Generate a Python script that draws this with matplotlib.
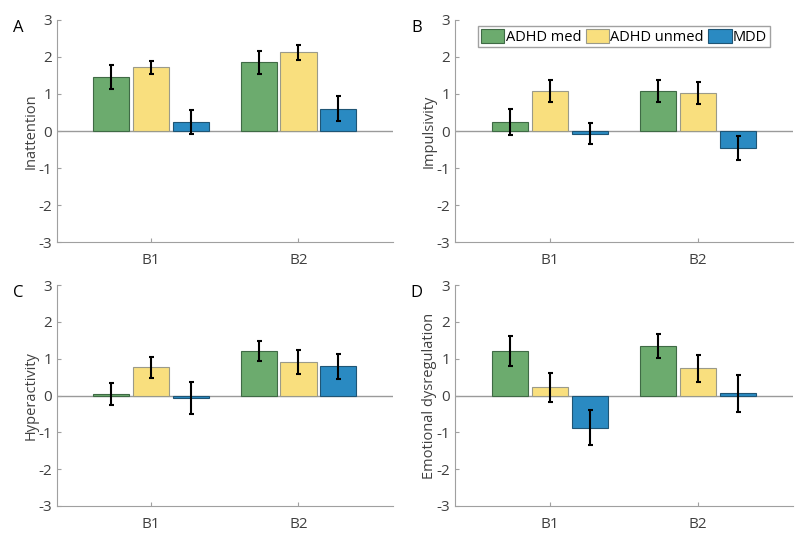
import numpy as np
from matplotlib import pyplot as plt

plt.rcParams['font.family'] = ['Open Sans', 'DejaVu Sans']
plt.rcParams['axes.unicode_minus'] = False

groups = ['B1', 'B2']
series = ['ADHD med', 'ADHD unmed', 'MDD']
panel_letters = ['A', 'B', 'C', 'D']
ylabels = ['Inattention', 'Impulsivity', 'Hyperactivity', 'Emotional dysregulation']

# means per panel: rows = series, cols = B1, B2
inattention = [[1.46, 1.86], [1.72, 2.12], [0.25, 0.60]]
impulsivity = [[0.25, 1.07], [1.07, 1.02], [-0.07, -0.46]]
hyperactivity = [[0.04, 1.22], [0.77, 0.91], [-0.06, 0.79]]
emotional = [[1.22, 1.35], [0.22, 0.74], [-0.87, 0.06]]

# error bar half-lengths
inattention_err = [[0.32, 0.31], [0.17, 0.20], [0.33, 0.34]]
impulsivity_err = [[0.35, 0.30], [0.30, 0.29], [0.29, 0.33]]
hyperactivity_err = [[0.29, 0.27], [0.29, 0.32], [0.43, 0.33]]
emotional_err = [[0.41, 0.32], [0.40, 0.37], [0.47, 0.50]]

colors = ['#6cab6e', '#f9df7e', '#2a8ac2']
edges = ['#3f6a45', '#9a9a8a', '#1f5575']

means = [inattention, impulsivity, hyperactivity, emotional]
errs = [inattention_err, impulsivity_err, hyperactivity_err, emotional_err]

fig = plt.figure(figsize=(8, 5.37), dpi=100)
positions = [
    [0.071, 0.549, 0.420, 0.414],
    [0.569, 0.549, 0.422, 0.414],
    [0.071, 0.058, 0.420, 0.411],
    [0.569, 0.058, 0.422, 0.411],
]

x = np.arange(1, len(groups) + 1)
offsets = [-0.27, 0, 0.27]
width = 0.245
axis_grey = '#a0a0a0'
text_grey = '#404040'

for k in range(4):
    ax = fig.add_axes(positions[k])
    handles = []
    for i in range(len(series)):
        b = ax.bar(x + offsets[i], means[k][i], width, color=colors[i],
                   edgecolor=edges[i], linewidth=0.8, label=series[i], zorder=2)
        handles.append(b)
        ax.errorbar(x + offsets[i], means[k][i], yerr=errs[k][i], fmt='none',
                    ecolor='black', elinewidth=1.5, capsize=1.8, capthick=1.5, zorder=3)
    ax.axhline(0, color='#9a9a9a', linewidth=1, zorder=1)
    ax.set_xlim(0.36, 2.64)
    ax.set_ylim(-3, 3)
    ax.set_xticks(x)
    ax.set_xticklabels(groups)
    ax.set_yticks(range(-3, 4))
    ax.spines['top'].set_visible(False)
    ax.spines['right'].set_visible(False)
    ax.spines['left'].set_color(axis_grey)
    ax.spines['bottom'].set_color(axis_grey)
    ax.tick_params(direction='in', length=3, color=axis_grey, labelcolor=text_grey,
                   labelsize=11)
    ax.tick_params(axis='x', pad=8)
    ax.set_ylabel(ylabels[k], fontsize=10.5, color=text_grey, labelpad=0)
    ax.text(-0.115, 1.0, panel_letters[k], transform=ax.transAxes, fontsize=12,
            ha='center', va='top')
    if k == 1:
        ax.legend(handles=handles, loc='upper center', bbox_to_anchor=(0.5, 1.0),
                  ncol=3, fontsize=10.5, frameon=True, fancybox=False,
                  edgecolor='#8a8a8a', handlelength=1.6, handleheight=1.1,
                  handletextpad=0.1, columnspacing=0.3, borderpad=0.2,
                  borderaxespad=0.4)

plt.savefig('out.png', dpi=100)
